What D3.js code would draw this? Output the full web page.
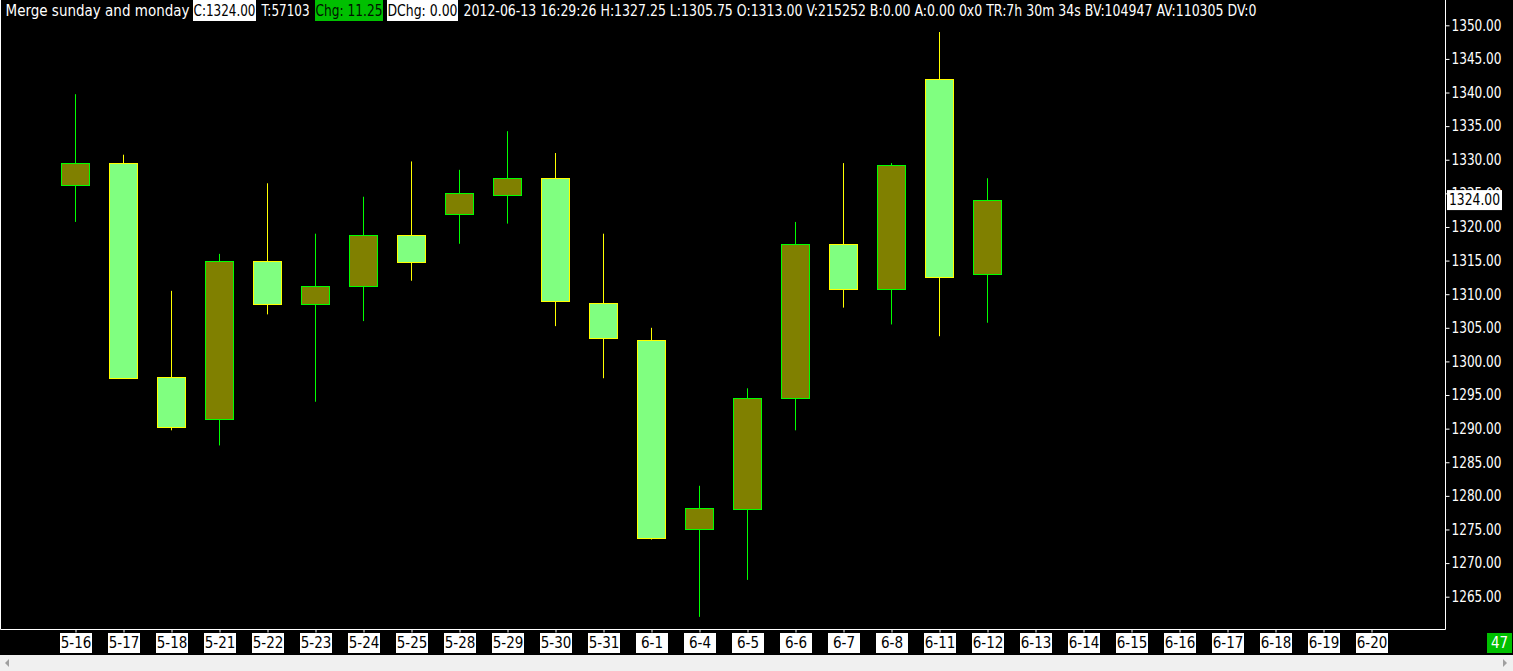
<!DOCTYPE html>
<html><head><meta charset="utf-8">
<script src="https://cdn.jsdelivr.net/npm/d3@7"></script>
<style>html,body{margin:0;padding:0;background:#000;overflow:hidden}</style>
</head><body>
<svg id="c" width="1513" height="671"></svg>
<script>
// ---- data ----
const dates = ["5-16","5-17","5-18","5-21","5-22","5-23","5-24","5-25","5-28","5-29","5-30","5-31","6-1","6-4","6-5","6-6","6-7","6-8","6-11","6-12"];
const opens  = [1326.25,1329.5,1297.75,1291.5,1315,1308.5,1311.25,1318.75,1322,1324.75,1327.25,1308.75,1303.25,1275,1278,1294.5,1317.5,1310.75,1342,1313];
const highs  = [1339.75,1330.75,1310.5,1316,1326.5,1319,1324.5,1329.75,1328.5,1334.25,1331,1319,1305,1281.5,1296,1320.75,1329.5,1329.5,1349,1327.25];
const lows   = [1320.75,1297.5,1289.75,1287.5,1307,1294,1306,1312,1317.5,1320.5,1305.25,1297.5,1273.5,1262,1267.5,1289.75,1308,1305.5,1303.75,1305.75];
const closes = [1329.5,1297.5,1290.25,1315,1308.5,1311.25,1318.75,1314.75,1325,1327.25,1309,1303.5,1273.75,1278.25,1294.5,1317.5,1310.75,1329.25,1312.5,1324];
const xLabels = ["5-16","5-17","5-18","5-21","5-22","5-23","5-24","5-25","5-28","5-29","5-30","5-31","6-1","6-4","6-5","6-6","6-7","6-8","6-11","6-12","6-13","6-14","6-15","6-16","6-17","6-18","6-19","6-20"];
const yTicks = d3.range(1265, 1351, 5);
const lastPrice = 1324.00;
const barCount = "47";
const headerTexts = ["Merge sunday and monday","C:1324.00","T:57103","Chg: 11.25","DChg: 0.00",
  "2012-06-13 16:29:26 H:1327.25 L:1305.75 O:1313.00 V:215252 B:0.00 A:0.00 0x0 TR:7h 30m 34s BV:104947 AV:110305 DV:0"];

const candles = dates.map((d,i)=>({d, o:opens[i], h:highs[i], l:lows[i], c:closes[i]}));

// ---- layout / style ----
const W = 1513, H = 671;
const plotR = 1445, plotB = 629;
const font = "'DejaVu Sans Condensed', 'Liberation Sans', sans-serif";
const headerStyle = [
  {x0:5,   x1:190,  bg:null,      fg:"#ffffff"},
  {x0:193, x1:256,  bg:"#ffffff", fg:"#000000"},
  {x0:261, x1:310,  bg:null,      fg:"#ffffff"},
  {x0:315, x1:383,  bg:"#00c000", fg:"#001400"},
  {x0:387, x1:458,  bg:"#ffffff", fg:"#000000"},
  {x0:463, x1:1257, bg:null,      fg:"#ffffff"}
];
const svg = d3.select("#c");
svg.append("rect").attr("width",W).attr("height",H).attr("fill","#000");

const x = d3.scalePoint().domain(xLabels).range([75, 1371]);
const y = d3.scaleLinear().domain([1265,1350]).range([596.7, 25.3]);
const bw = 28;

// frame
svg.append("path").attr("d",`M0.5,0 V${plotB+0.5} H${plotR+0.5} V0`).attr("fill","none").attr("stroke","#fff").attr("stroke-width",1);

// candles
const g = svg.append("g");
const upFill = "#808000", upStroke = "#00ff00", dnFill = "#80ff80", dnStroke = "#ffff00";
g.selectAll("line.w").data(candles).join("line").attr("class","w")
  .attr("x1",d=>Math.round(x(d.d))+0.5).attr("x2",d=>Math.round(x(d.d))+0.5)
  .attr("y1",d=>y(d.h)).attr("y2",d=>y(d.l))
  .attr("stroke",d=>d.c>=d.o?upStroke:dnStroke).attr("stroke-width",1);
g.selectAll("rect.b").data(candles).join("rect").attr("class","b")
  .attr("x",d=>Math.round(x(d.d))-bw/2+0.5)
  .attr("y",d=>Math.round(y(Math.max(d.o,d.c)))+0.5)
  .attr("width",bw)
  .attr("height",d=>Math.max(1,Math.round(y(Math.min(d.o,d.c)))-Math.round(y(Math.max(d.o,d.c)))))
  .attr("fill",d=>d.c>=d.o?upFill:dnFill)
  .attr("stroke",d=>d.c>=d.o?upStroke:dnStroke).attr("stroke-width",1);

// y axis (right)
const yAxis = d3.axisRight(y).tickValues(yTicks).tickSize(4).tickPadding(2).tickFormat(d3.format(".2f"));
const ya = svg.append("g").attr("transform",`translate(${plotR+0.5},0)`).call(yAxis);
ya.select(".domain").remove();
ya.selectAll("line").attr("stroke","#fff");
ya.selectAll("text").attr("fill","#fff").attr("font-family",font).attr("font-size","15px")
  .attr("textLength",50).attr("lengthAdjust","spacingAndGlyphs");

// last price label
svg.append("rect").attr("x",1447).attr("y",y(lastPrice)-10).attr("width",55).attr("height",20).attr("fill","#fff");
svg.append("text").attr("x",1449).attr("y",y(lastPrice)).attr("dy","0.35em").attr("fill","#000")
  .attr("font-family",font).attr("font-size","15px")
  .attr("textLength",51).attr("lengthAdjust","spacingAndGlyphs").text(d3.format(".2f")(lastPrice));

// x axis (bottom)
const xAxis = d3.axisBottom(x).tickSize(3).tickPadding(0).tickFormat(d=>d);
const xa = svg.append("g").attr("transform",`translate(0.5,${plotB+0.5})`).call(xAxis);
xa.select(".domain").remove();
xa.selectAll("line").attr("stroke","#fff");
xa.selectAll(".tick text").remove();
xa.selectAll(".tick").append("rect").attr("x",-16).attr("y",3.5).attr("width",32).attr("height",20).attr("fill","#fff");
xa.selectAll(".tick").append("text").attr("x",0).attr("y",13.5).attr("dy","0.35em").attr("text-anchor","middle")
  .attr("fill","#000").attr("font-family",font).attr("font-size","15px").text(d=>d);

// bar count box
svg.append("rect").attr("x",1487).attr("y",633).attr("width",25).attr("height",20).attr("fill","#00c000");
svg.append("text").attr("x",1499.5).attr("y",643).attr("dy","0.35em").attr("text-anchor","middle")
  .attr("fill","#fff").attr("font-family",font).attr("font-size","15px").text(barCount);

// scrollbar
svg.append("rect").attr("x",0).attr("y",655).attr("width",W).attr("height",16).attr("fill","#f0f0f0");
svg.append("path").attr("d","M9,659 L5,663 L9,667 Z").attr("fill","#a0a0a0");
svg.append("path").attr("d","M1503,659 L1507,663 L1503,667 Z").attr("fill","#a0a0a0");

// header
headerTexts.forEach((t,i)=>{
  const s = headerStyle[i];
  if (s.bg) svg.append("rect").attr("x",s.x0).attr("y",0).attr("width",s.x1-s.x0).attr("height",21).attr("fill",s.bg);
  svg.append("text").attr("x",s.x0+0.5).attr("y",11).attr("dy","0.35em").attr("fill",s.fg)
    .attr("font-family",font).attr("font-size","15px")
    .attr("textLength",s.x1-s.x0-1).attr("lengthAdjust","spacingAndGlyphs").text(t);
});
</script>
</body></html>
